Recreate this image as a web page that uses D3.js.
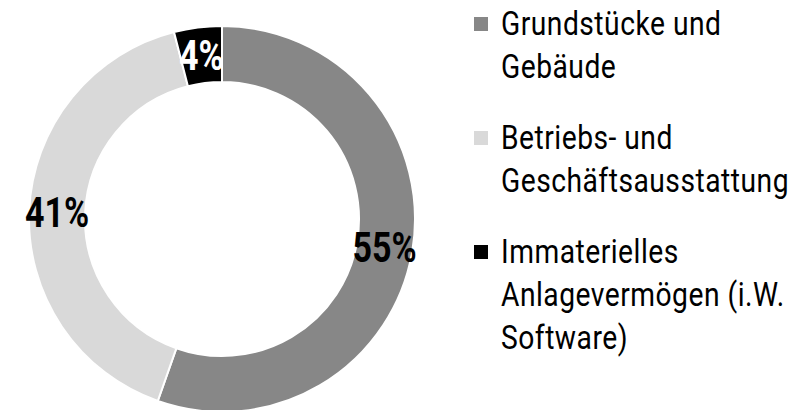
<!DOCTYPE html>
<html>
<head>
<meta charset="utf-8">
<script src="https://cdn.jsdelivr.net/npm/d3@7"></script>
<style>
  body { margin: 0; background: #fff; }
  svg text { font-family: Roboto, "Liberation Sans", sans-serif; }
</style>
</head>
<body>
<svg id="chart"></svg>
<script>
// chart data
const categories = ['Grundstücke und Gebäude', 'Betriebs- und Geschäftsausstattung', 'Immaterielles Anlagevermögen (i.W. Software)'];
const shares = [55.4, 40.6, 4.0];
const shareLabels = ['55%', '41%', '4%'];
const legendLines = [
  ['Grundstücke und', 'Gebäude'],
  ['Betriebs- und', 'Geschäftsausstattung'],
  ['Immaterielles', 'Anlagevermögen (i.W.', 'Software)']
];
const colors = ['#878787', '#d9d9d9', '#000000'];
const labelColors = ['#000', '#000', '#fff'];

const width = 794;
const height = 410;

const svg = d3.select('#chart')
  .attr('width', width)
  .attr('height', height);

const cx = 222, cy = 219;
const outerR = 193, innerR = 137;

const pie = d3.pie().sort(null).value(d => d);
const arc = d3.arc().innerRadius(innerR).outerRadius(outerR);

const donut = svg.append('g')
  .attr('transform', `translate(${cx}, ${cy})`);

const slices = pie(shares);

donut.selectAll('path')
  .data(slices)
  .enter()
  .append('path')
  .attr('d', arc)
  .attr('fill', (d, i) => colors[i])
  .attr('stroke', '#fff')
  .attr('stroke-width', 2);

// percentage labels, squeezed horizontally to look condensed
donut.selectAll('.pct')
  .data(slices)
  .enter()
  .append('text')
  .attr('class', 'pct')
  .attr('transform', d => `translate(${arc.centroid(d)}) scale(0.81, 1)`)
  .attr('dy', '0.36em')
  .attr('text-anchor', 'middle')
  .attr('font-size', 42)
  .attr('font-weight', 'bold')
  .attr('fill', (d, i) => labelColors[i])
  .text((d, i) => shareLabels[i]);

// legend
const lineH = 43;
const itemGap = 71;
const legendX = 474;
const textX = 501;
let baseline = 35;

const legend = svg.append('g').attr('id', 'legend');

categories.forEach((c, i) => {
  const item = legend.append('g');
  item.append('rect')
    .attr('x', legendX)
    .attr('y', baseline - 18)
    .attr('width', 14)
    .attr('height', 14)
    .attr('fill', colors[i]);
  const t = item.append('text')
    .attr('transform', `translate(${textX}, 0) scale(0.83, 1)`)
    .attr('font-size', 34)
    .attr('letter-spacing', 0.6)
    .attr('fill', '#000');
  legendLines[i].forEach((line, j) => {
    t.append('tspan')
      .attr('x', 0)
      .attr('y', baseline + j * lineH)
      .text(line);
  });
  baseline += (legendLines[i].length - 1) * lineH + itemGap;
});
</script>
</body>
</html>
